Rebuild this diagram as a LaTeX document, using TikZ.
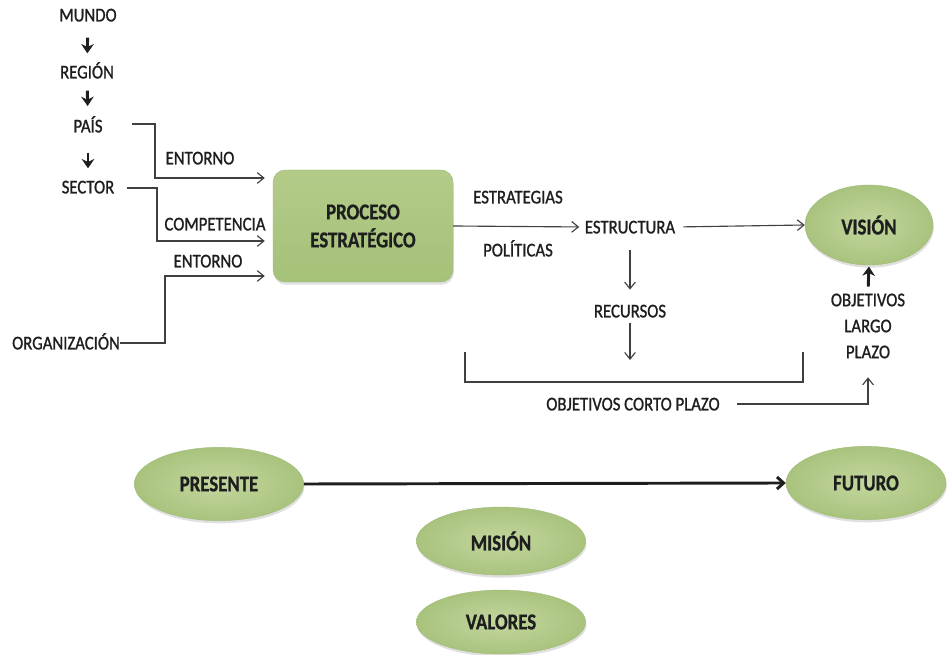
\documentclass[tikz,border=0pt]{standalone}
\usepackage{fontspec}
\setmainfont{Carlito}
\newfontfamily\lblfont[FakeStretch=0.86,FakeBold=1.1]{Carlito}
\newfontfamily\nodefont[FakeStretch=0.83,FakeBold=0.8]{Carlito}
\usetikzlibrary{arrows.meta,calc,shadows,shapes.geometric}
\definecolor{gin}{HTML}{C3D79E}
\definecolor{gout}{HTML}{A9C37E}
\definecolor{gtop}{HTML}{B3CB88}
\definecolor{gbot}{HTML}{A6C17A}
\definecolor{gedge}{HTML}{A0BB76}
\definecolor{ink}{HTML}{1E1E1E}
\tikzset{
  lbl/.style={font=\lblfont\fontsize{14.6}{19.5}\selectfont, text=ink, inner sep=0pt, text height=9.6pt, text depth=0pt},
  shad/.style={drop shadow={opacity=0.25, shadow xshift=0.6pt, shadow yshift=-2pt}},
  oval/.style={ellipse, shad, inner color=gin, outer color=gout, draw=gedge, line width=0.3pt,
     font=\nodefont\bfseries\fontsize{17}{19}\selectfont, text=ink, inner sep=0pt},
  procbox/.style={rectangle, rounded corners=9pt, shad, top color=gtop, bottom color=gbot, draw=gedge, line width=0.3pt,
     font=\nodefont\bfseries\fontsize{17}{21}\selectfont, text=ink, align=center},
  con/.style={draw=ink!85, line width=0.85pt, -{Straight Barb[length=5pt,width=8pt]}},
  plain/.style={draw=ink!85, line width=0.85pt},
  thk/.style={draw=ink, line width=2.2pt, -{Stealth[length=7pt,width=9.5pt]}},
  bigarrow/.style={draw=ink, line width=2.2pt, -{Straight Barb[length=5pt,width=9pt]}}
}
\begin{document}
\begin{tikzpicture}[x=0.75pt,y=-0.75pt]
\useasboundingbox (0,0) rectangle (947,655);
% left chain
\node[lbl] (mundo) at (88,15) {MUNDO};
\node[lbl] (region) at (87,72) {REGIÓN};
\node[lbl] (pais) at (88,126) {PAÍS};
\node[lbl] (sector) at (88,187) {SECTOR};
\node[lbl] (org) at (66,343) {ORGANIZACIÓN};
\draw[thk, shorten <=12pt, shorten >=9pt] (mundo) -- (region);
\draw[thk, shorten <=9pt, shorten >=10pt] (region) -- (pais);
\draw[thk, shorten <=15pt, shorten >=9pt] (pais) -- (sector);
% process box
\node[procbox, minimum width=135pt, minimum height=84pt] (proc) at (363,226) {PROCESO\\ESTRATÉGICO};
% inputs
\node[lbl] (ent1) at (200,158) {ENTORNO};
\node[lbl] (comp) at (215,224) {COMPETENCIA};
\node[lbl] (ent2) at (208,261) {ENTORNO};
\draw[con] ($(pais.east)+(29,-2)$) -- (155,124) -- (155,178) -- ($(proc.west)+(-8,-48)$);
\draw[con] ($(sector.east)+(12,1)$) -- (157,188) -- (157,241) -- ($(proc.west)+(-8,15)$);
\draw[con] (org.east) -- (165,343) -- (165,276) -- ($(proc.west)+(-8,50)$);
% outputs
\node[lbl] (estr) at (518,197) {ESTRATEGIAS};
\node[lbl] (pol) at (518,250) {POLÍTICAS};
\node[lbl] (estruc) at (630,227) {ESTRUCTURA};
\node[oval, minimum width=96pt, minimum height=60pt] (vision) at (869,225) {VISIÓN};
\draw[con, shorten >=4pt] (proc.east) -- (estruc.west);
\draw[con, shorten <=6pt] (estruc.east) -- (vision.west);
\node[lbl] (rec) at (630,311) {RECURSOS};
\draw[con, shorten <=12pt, shorten >=11pt] (estruc) -- (rec);
\coordinate (recend) at (630,360);
\draw[con, shorten <=4pt] (rec.south) -- (recend);
% bracket
\draw[plain] (465,352) -- (465,382) -- (803,382) -- (803,352);
% objectives
\node[lbl] (ocp) at (633,404) {OBJETIVOS CORTO PLAZO};
\node[lbl, align=center, text height=, text depth=] (olp) at (868,326) {OBJETIVOS\\LARGO\\PLAZO};
\draw[con, shorten <=13pt, shorten >=14pt] (ocp.east) -| (olp.south);
\draw[thk, shorten <=5pt, shorten >=1pt] (olp.north) -- (vision.south);
% bottom
\node[oval, minimum width=127pt, minimum height=55pt] (pres) at (219,484) {PRESENTE};
\node[oval, minimum width=120pt, minimum height=55pt] (fut) at (866,483) {FUTURO};
\node[oval, minimum width=127pt, minimum height=51pt] (mision) at (501,541) {MISIÓN};
\node[oval, minimum width=127pt, minimum height=48pt] (valores) at (501,622) {VALORES};
\draw[bigarrow] (pres.east) -- (fut.west);
\end{tikzpicture}
\end{document}
